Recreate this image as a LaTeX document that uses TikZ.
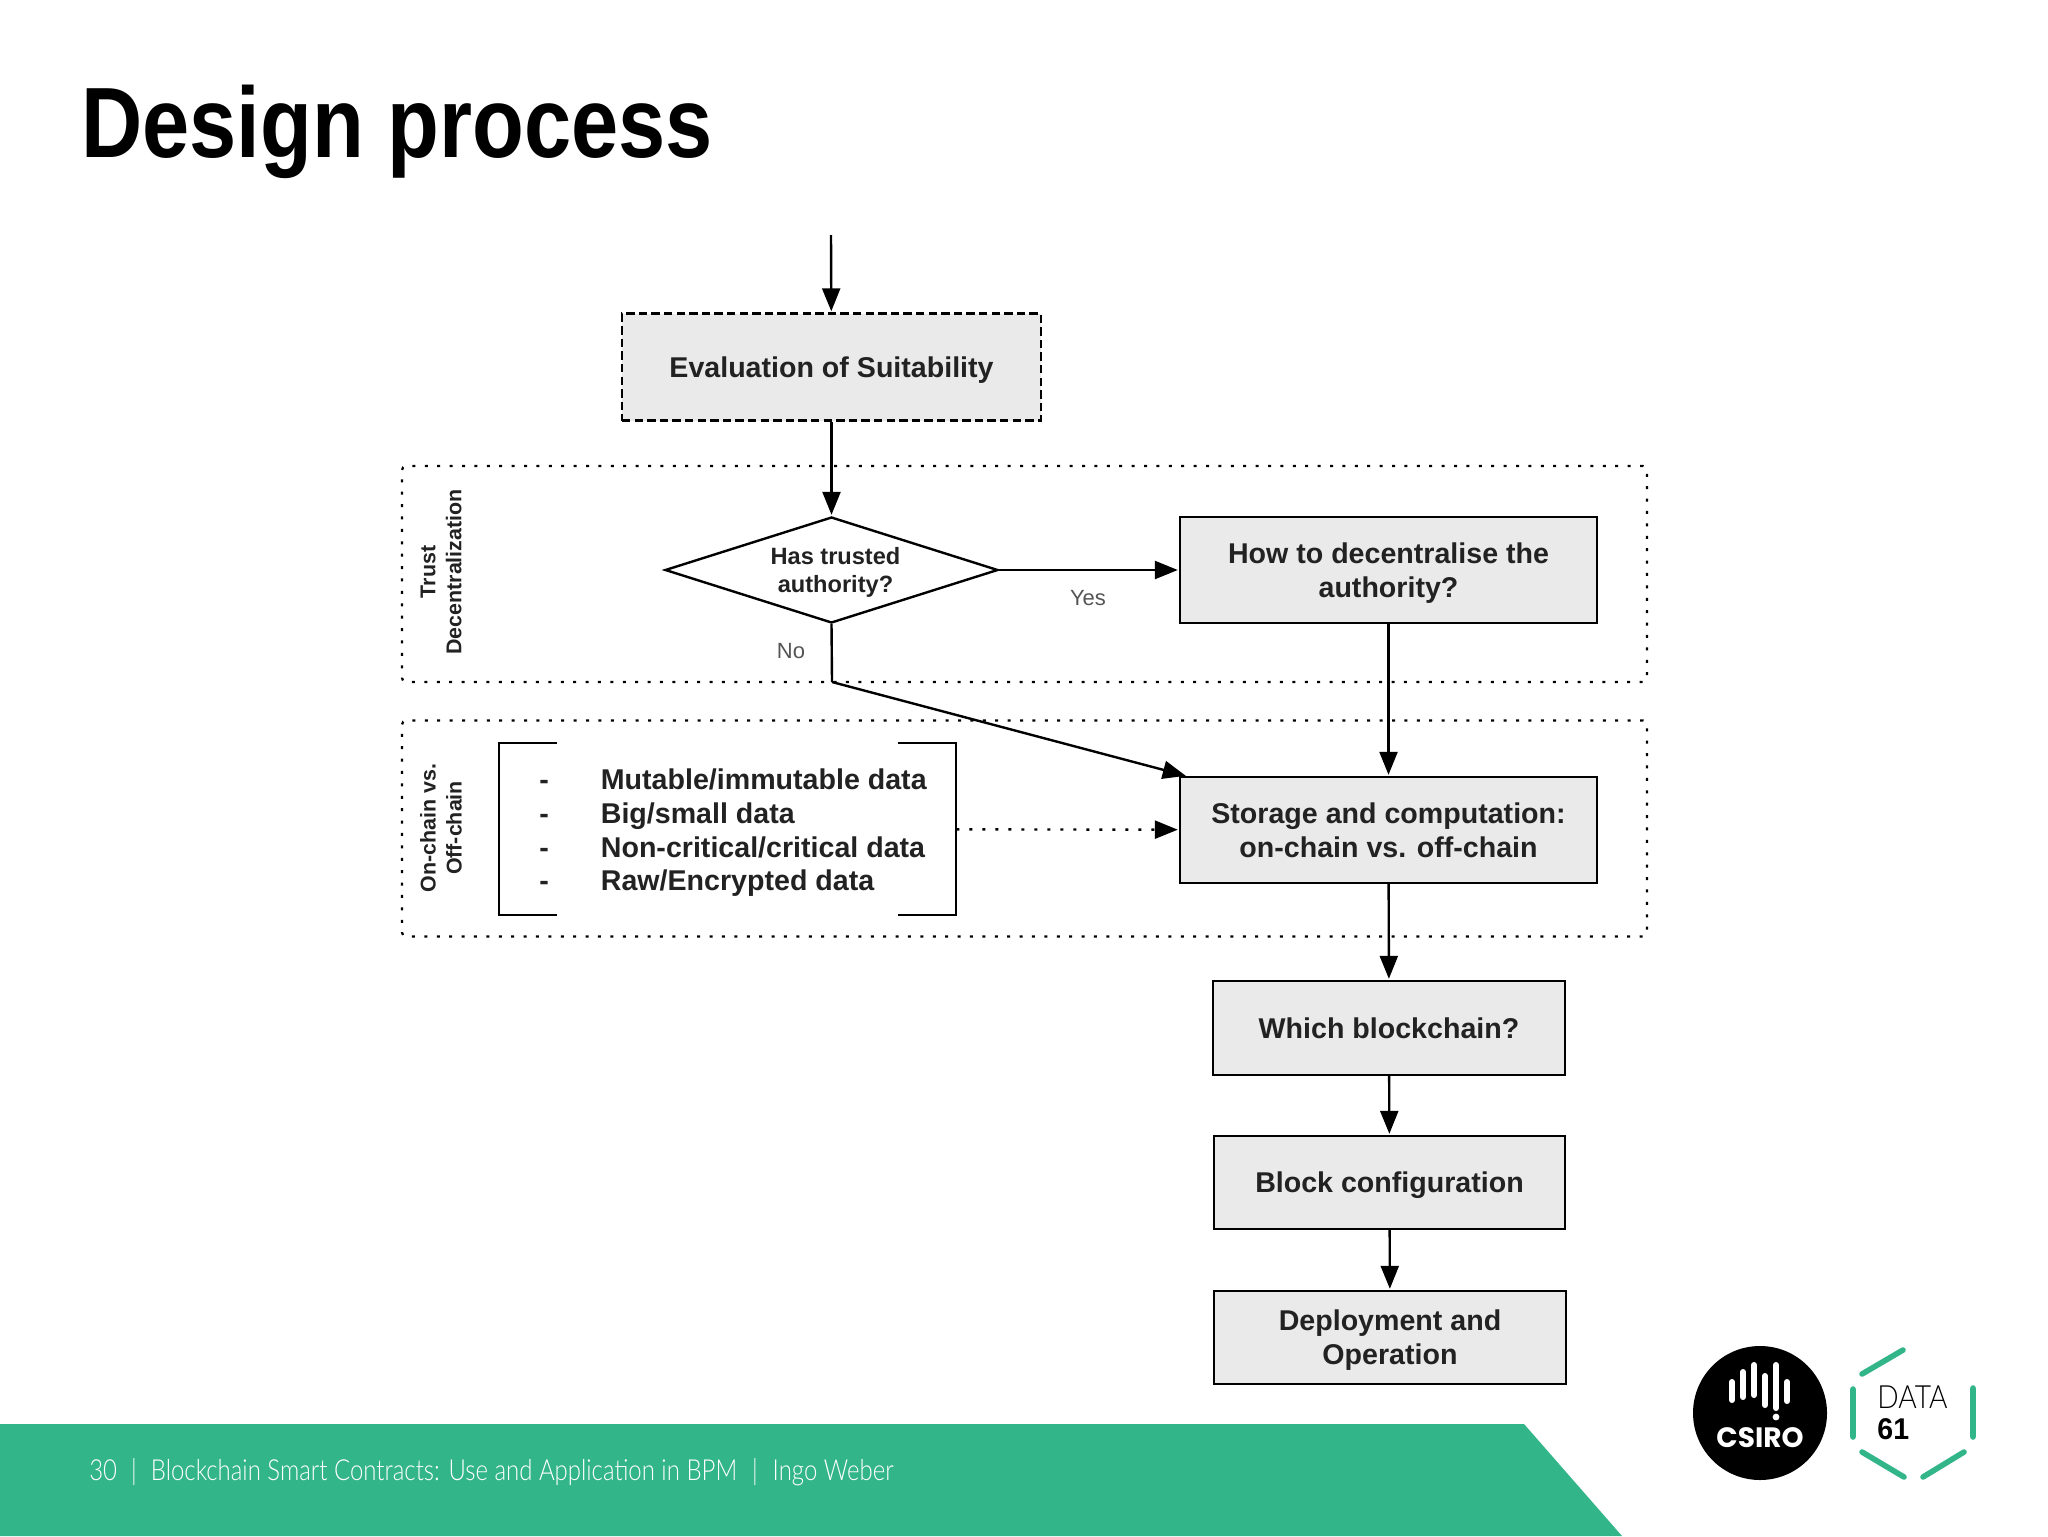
\documentclass[tikz,border=0pt]{standalone}
\usepackage{fontspec}
\setmainfont{Liberation Sans}
\newfontfamily\footfont{Lato Light}
\newfontfamily\logofont{Poppins}
\usepackage{tikz}
\usetikzlibrary{shapes,arrows.meta}

\definecolor{slidegreen}{HTML}{33B58A}
\definecolor{boxgray}{HTML}{EAEAEA}
\definecolor{labelgray}{HTML}{555555}
\definecolor{inkgray}{HTML}{222222}

\begin{document}
\begin{tikzpicture}[%
  x=0.5pt, y=-0.5pt,
  stepbox/.style={draw, line width=1.2pt, fill=boxgray, align=center, inner sep=0pt,
    text=inkgray, text depth=0pt, font=\fontsize{14.3}{17}\selectfont\bfseries},
  groupbox/.style={draw, line width=1.1pt, dash pattern=on 1.5pt off 4.7pt, rounded corners=2pt,
    minimum width=622.5pt, minimum height=108pt, inner sep=0pt},
  grouplabel/.style={rotate=90, align=center, inner sep=0pt, text=inkgray,
    font=\fontsize{10.7}{13}\selectfont\bfseries},
  choice/.style={draw, diamond, aspect=3.14, line width=1.2pt, align=center, inner sep=0pt,
    text=inkgray, text depth=0pt, minimum width=166.5pt, minimum height=53pt,
    font=\fontsize{11.8}{14.4}\selectfont\bfseries},
  answer/.style={text=labelgray, inner sep=0pt, font=\fontsize{11}{13}\selectfont},
  flow/.style={-{Triangle[length=11.5pt,width=9pt]}, line width=1.2pt, shorten >=0.5pt}]

  \useasboundingbox (0,0) rectangle (2048,1536);

  \node [anchor=base, xscale=0.848, inner sep=0pt, font=\fontsize{50}{55}\selectfont\bfseries]
    (title) at (397,157) {Design process};

  \node [groupbox] (trustgroup) at (1024.5,574) {};
  \node [groupbox] (chaingroup) at (1024.5,828.5) {};
  \node [grouplabel] (trustlabel) at (441,572) {Trust\\Decentralization};
  \node [grouplabel] (chainlabel) at (441,828) {On-chain vs.\\Off-chain};

  \coordinate (start) at (831,235);
  \node [stepbox, dash pattern=on 4.2pt off 2.1pt, minimum width=209.5pt, minimum height=53.5pt]
    (suitability) at (831.5,367) {Evaluation of Suitability};
  \node [choice] (trusted) at (831.5,570) {\hspace*{4pt}Has trusted\\\hspace*{4pt}authority?};
  \node [stepbox, minimum width=208.5pt, minimum height=53pt] (decentralise) at (1388.5,570)
    {How to decentralise the\\authority?};
  \node [stepbox, minimum width=208.5pt, minimum height=53pt] (storage) at (1388.5,830)
    {Storage and computation:\\on-chain vs. off-chain};
  \node [stepbox, minimum width=176pt, minimum height=47pt] (whichchain) at (1389,1028)
    {Which blockchain?};
  \node [stepbox, minimum width=175.5pt, minimum height=46.5pt] (blockconfig) at (1389.5,1182.5)
    {Block configuration};
  \node [stepbox, minimum width=176pt, minimum height=46.5pt] (deployment) at (1390,1337.5)
    {Deployment and\\Operation};

  \node [minimum width=228.5pt, minimum height=86pt, inner sep=0pt] (datalist) at (727.5,829) {};
  \node [inner sep=0pt, text=inkgray, font=\fontsize{14.3}{16.8}\selectfont\bfseries]
    (listtext) at (733,833.5) {%
    \begin{tabular}{@{}l@{\hspace{26pt}}l@{}}
      - & Mutable/immutable data\\
      - & Big/small data\\
      - & Non-critical/critical data\\
      - & Raw/Encrypted data
    \end{tabular}};
  \draw [line width=1pt] ([xshift=29pt]datalist.north west) -| (datalist.south west) -- ++(58,0);
  \draw [line width=1pt] ([xshift=-29pt]datalist.north east) -| (datalist.south east) -- ++(-58,0);

  \coordinate (bend) at (832,682);
  \draw [flow] (start) -- (suitability);
  \draw [flow] (suitability) -- (trusted);
  \draw [flow] (trusted) -- (decentralise);
  \draw [line width=1.2pt] (trusted.south) -- (bend);
  \draw [flow, shorten >=0pt] (bend) -- ([xshift=3.5pt]storage.north west);
  \draw [flow] (decentralise) -- (storage);
  \draw [flow, dash pattern=on 1.5pt off 5pt] (datalist) -- (storage);
  \draw [flow] (storage) -- (whichchain);
  \draw [flow] (whichchain) -- (blockconfig);
  \draw [flow] (blockconfig) -- (deployment);

  \node [answer] (yes) at (1088,598) {Yes};
  \node [answer] (no) at (791,651) {No};

  % footer
  \fill [slidegreen] (0,1424) -- (1524,1424) -- (1622,1536) -- (0,1536) -- cycle;
  \node [anchor=base west, text=white, xscale=0.826, inner sep=0pt,
    font=\fontsize{14.5}{16}\footfont] (footer) at (89,1480)
    {30\hspace{8.5pt}|\hspace{8.5pt}Blockchain Smart Contracts: Use and Application in BPM\hspace{9pt}|\hspace{9pt}Ingo Weber};

  % logos
  \fill [black] (1760,1413) circle (33.5pt);
  \draw [white, line width=3pt, line cap=round]
    (1732,1382) -- (1732,1400) (1743,1372) -- (1743,1397) (1754,1365) -- (1754,1395)
    (1765,1376) -- (1765,1405) (1776,1365) -- (1776,1408) (1787,1382) -- (1787,1401);
  \fill [white] (1776,1417) circle (1.7pt);
  \node [text=white, inner sep=0pt, font=\fontsize{14}{16}\logofont\bfseries] (csiro) at (1760,1438) {CSIRO};
  \draw [slidegreen, line width=2.8pt, line cap=round]
    (1903,1350) -- (1862,1374) (1853,1389) -- (1853,1437) (1862,1452) -- (1904,1477)
    (1923,1477) -- (1964,1452) (1973,1437) -- (1973,1388);
  \node [anchor=base west, inner sep=0pt, xscale=0.88, font=\fontsize{16}{18}\footfont] (dataname) at (1877,1408) {DATA};
  \node [anchor=base west, inner sep=0pt, xscale=0.95, font=\fontsize{15}{17}\selectfont\bfseries] (datanum) at (1877,1439) {61};
\end{tikzpicture}
\end{document}
